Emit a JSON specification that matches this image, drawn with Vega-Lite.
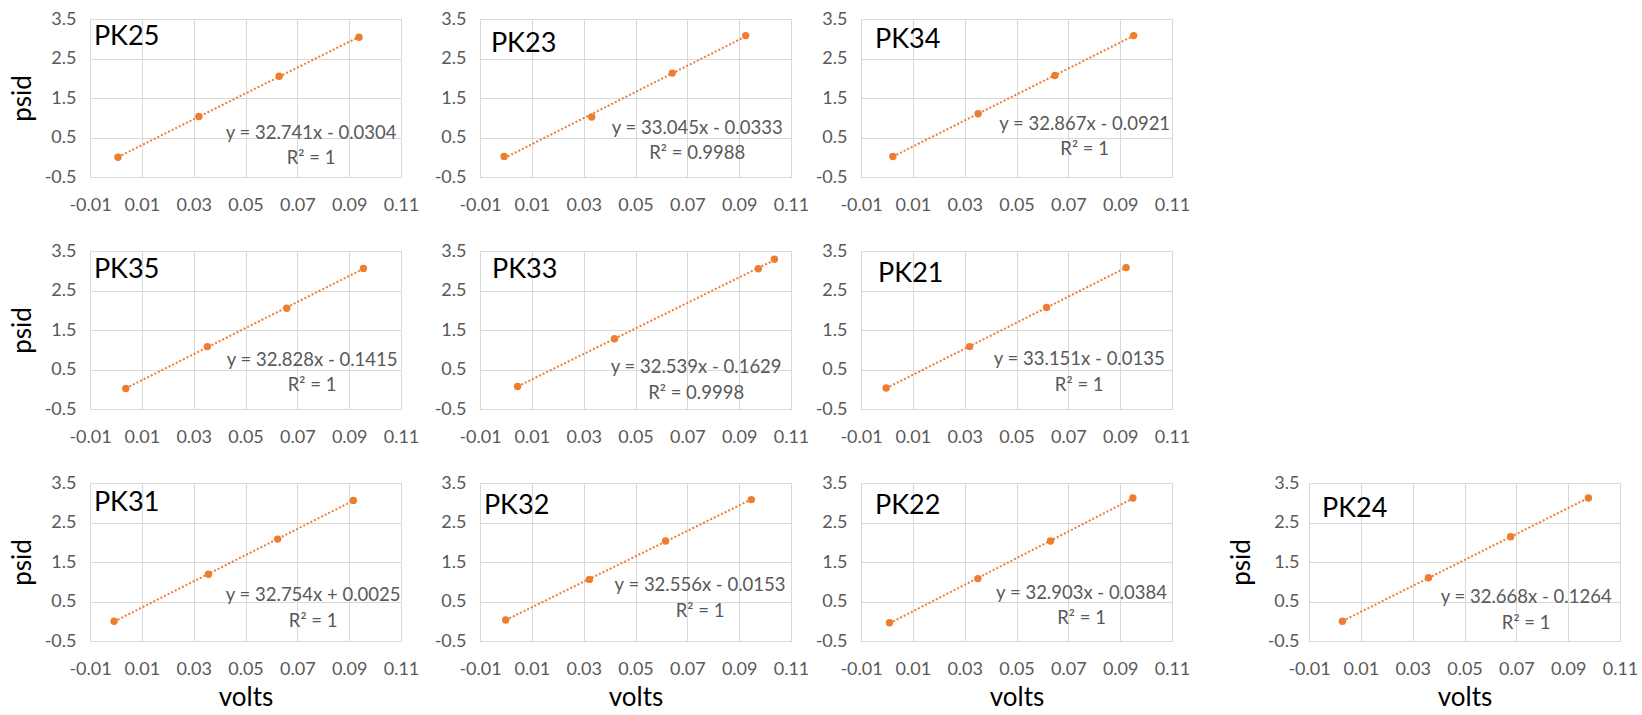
{
  "$schema": "https://vega.github.io/schema/vega-lite/v6.json",
  "background": "white",
  "padding": {"left": 8, "top": 9, "right": 0, "bottom": 0},
  "autosize": {"type": "pad"},
  "columns": 7,
  "align": "none",
  "bounds": "flush",
  "spacing": {"row": 74, "column": 0},
  "datasets": {
    "points": [
      {"panel": "PK25", "volts": 0.0008, "psid": 0.0},
      {"panel": "PK25", "volts": 0.032, "psid": 1.03},
      {"panel": "PK25", "volts": 0.063, "psid": 2.05},
      {"panel": "PK25", "volts": 0.0938, "psid": 3.04},
      {"panel": "PK23", "volts": -0.0007, "psid": 0.02},
      {"panel": "PK23", "volts": 0.0331, "psid": 1.02},
      {"panel": "PK23", "volts": 0.0642, "psid": 2.13},
      {"panel": "PK23", "volts": 0.0925, "psid": 3.08},
      {"panel": "PK34", "volts": 0.0023, "psid": 0.02},
      {"panel": "PK34", "volts": 0.0352, "psid": 1.1},
      {"panel": "PK34", "volts": 0.0648, "psid": 2.07},
      {"panel": "PK34", "volts": 0.0952, "psid": 3.08},
      {"panel": "PK35", "volts": 0.0038, "psid": 0.02},
      {"panel": "PK35", "volts": 0.0353, "psid": 1.08},
      {"panel": "PK35", "volts": 0.0659, "psid": 2.05},
      {"panel": "PK35", "volts": 0.0955, "psid": 3.06},
      {"panel": "PK33", "volts": 0.0045, "psid": 0.07},
      {"panel": "PK33", "volts": 0.0419, "psid": 1.28},
      {"panel": "PK33", "volts": 0.0974, "psid": 3.05},
      {"panel": "PK33", "volts": 0.1036, "psid": 3.29},
      {"panel": "PK21", "volts": -0.0003, "psid": 0.03},
      {"panel": "PK21", "volts": 0.0319, "psid": 1.08},
      {"panel": "PK21", "volts": 0.0616, "psid": 2.07},
      {"panel": "PK21", "volts": 0.0923, "psid": 3.08},
      {"panel": "PK31", "volts": -0.0007, "psid": 0.0},
      {"panel": "PK31", "volts": 0.0357, "psid": 1.19},
      {"panel": "PK31", "volts": 0.0624, "psid": 2.08},
      {"panel": "PK31", "volts": 0.0916, "psid": 3.06},
      {"panel": "PK32", "volts": -0.0001, "psid": 0.03},
      {"panel": "PK32", "volts": 0.0322, "psid": 1.06},
      {"panel": "PK32", "volts": 0.0616, "psid": 2.03},
      {"panel": "PK32", "volts": 0.0947, "psid": 3.08},
      {"panel": "PK22", "volts": 0.001, "psid": -0.04},
      {"panel": "PK22", "volts": 0.0351, "psid": 1.08},
      {"panel": "PK22", "volts": 0.0631, "psid": 2.03},
      {"panel": "PK22", "volts": 0.0949, "psid": 3.12},
      {"panel": "PK24", "volts": 0.0029, "psid": 0.0},
      {"panel": "PK24", "volts": 0.0361, "psid": 1.1},
      {"panel": "PK24", "volts": 0.0678, "psid": 2.14},
      {"panel": "PK24", "volts": 0.0978, "psid": 3.12}
    ],
    "labels": [
      {"panel": "PK25", "eq": "y = 32.741x - 0.0304", "r2": "R² = 1"},
      {"panel": "PK23", "eq": "y = 33.045x - 0.0333", "r2": "R² = 0.9988"},
      {"panel": "PK34", "eq": "y = 32.867x - 0.0921", "r2": "R² = 1"},
      {"panel": "PK35", "eq": "y = 32.828x - 0.1415", "r2": "R² = 1"},
      {"panel": "PK33", "eq": "y = 32.539x - 0.1629", "r2": "R² = 0.9998"},
      {"panel": "PK21", "eq": "y = 33.151x - 0.0135", "r2": "R² = 1"},
      {"panel": "PK31", "eq": "y = 32.754x + 0.0025", "r2": "R² = 1"},
      {"panel": "PK32", "eq": "y = 32.556x - 0.0153", "r2": "R² = 1"},
      {"panel": "PK22", "eq": "y = 32.903x - 0.0384", "r2": "R² = 1"},
      {"panel": "PK24", "eq": "y = 32.668x - 0.1264", "r2": "R² = 1"}
    ]
  },
  "concat": [
    {"width": 311, "height": 158, "layer": [
      {"data": {"name": "points"}, "transform": [{"filter": "datum.panel === 'PK25'"}],
       "encoding": {
         "x": {"field": "volts", "type": "quantitative", "scale": {"domain": [-0.01, 0.11], "nice": false, "zero": false}, "axis": {"values": [-0.01, 0.01, 0.03, 0.05, 0.07, 0.09, 0.11], "tickCount": 20, "format": ".2f", "labelExpr": "replace(datum.label, '−', '-')", "title": null}},
         "y": {"field": "psid", "type": "quantitative", "scale": {"domain": [-0.5, 3.5], "nice": false, "zero": false}, "axis": {"values": [-0.5, 0.5, 1.5, 2.5, 3.5], "tickCount": 20, "format": ".1f", "labelExpr": "replace(datum.label, '−', '-')", "title": "psid"}}},
       "layer": [
         {"transform": [{"regression": "psid", "on": "volts"}], "mark": {"type": "line", "color": "#ED7D31", "strokeWidth": 2, "strokeDash": [2, 2]}},
         {"mark": {"type": "circle", "color": "#ED7D31", "opacity": 1, "size": 55}}
       ]},
      {"data": {"name": "labels"}, "transform": [{"filter": "datum.panel === 'PK25'"}], "mark": {"type": "text", "align": "left", "baseline": "top", "fontSize": 27, "color": "#000000"}, "encoding": {"x": {"datum": -0.0085}, "y": {"datum": 3.37}, "text": {"field": "panel"}}},
      {"data": {"name": "labels"}, "transform": [{"filter": "datum.panel === 'PK25'"}], "mark": {"type": "text", "align": "center", "baseline": "middle", "fontSize": 18.5, "color": "#595959"}, "encoding": {"x": {"datum": 0.0753}, "y": {"datum": 0.614}, "text": {"field": "eq"}}},
      {"data": {"name": "labels"}, "transform": [{"filter": "datum.panel === 'PK25'"}], "mark": {"type": "text", "align": "center", "baseline": "middle", "fontSize": 18.5, "color": "#595959"}, "encoding": {"x": {"datum": 0.0753}, "y": {"datum": -0.02}, "text": {"field": "r2"}}}
    ]},
    {"width": 70, "height": 158, "data": {"values": []}, "mark": "point", "view": {"stroke": null}},
    {"width": 311, "height": 158, "layer": [
      {"data": {"name": "points"}, "transform": [{"filter": "datum.panel === 'PK23'"}],
       "encoding": {
         "x": {"field": "volts", "type": "quantitative", "scale": {"domain": [-0.01, 0.11], "nice": false, "zero": false}, "axis": {"values": [-0.01, 0.01, 0.03, 0.05, 0.07, 0.09, 0.11], "tickCount": 20, "format": ".2f", "labelExpr": "replace(datum.label, '−', '-')", "title": null}},
         "y": {"field": "psid", "type": "quantitative", "scale": {"domain": [-0.5, 3.5], "nice": false, "zero": false}, "axis": {"values": [-0.5, 0.5, 1.5, 2.5, 3.5], "tickCount": 20, "format": ".1f", "labelExpr": "replace(datum.label, '−', '-')", "title": null}}},
       "layer": [
         {"transform": [{"regression": "psid", "on": "volts"}], "mark": {"type": "line", "color": "#ED7D31", "strokeWidth": 2, "strokeDash": [2, 2]}},
         {"mark": {"type": "circle", "color": "#ED7D31", "opacity": 1, "size": 55}}
       ]},
      {"data": {"name": "labels"}, "transform": [{"filter": "datum.panel === 'PK23'"}], "mark": {"type": "text", "align": "left", "baseline": "top", "fontSize": 27, "color": "#000000"}, "encoding": {"x": {"datum": -0.0058}, "y": {"datum": 3.196}, "text": {"field": "panel"}}},
      {"data": {"name": "labels"}, "transform": [{"filter": "datum.panel === 'PK23'"}], "mark": {"type": "text", "align": "center", "baseline": "middle", "fontSize": 18.5, "color": "#595959"}, "encoding": {"x": {"datum": 0.0738}, "y": {"datum": 0.74}, "text": {"field": "eq"}}},
      {"data": {"name": "labels"}, "transform": [{"filter": "datum.panel === 'PK23'"}], "mark": {"type": "text", "align": "center", "baseline": "middle", "fontSize": 18.5, "color": "#595959"}, "encoding": {"x": {"datum": 0.0738}, "y": {"datum": 0.107}, "text": {"field": "r2"}}}
    ]},
    {"width": 70, "height": 158, "data": {"values": []}, "mark": "point", "view": {"stroke": null}},
    {"width": 311, "height": 158, "layer": [
      {"data": {"name": "points"}, "transform": [{"filter": "datum.panel === 'PK34'"}],
       "encoding": {
         "x": {"field": "volts", "type": "quantitative", "scale": {"domain": [-0.01, 0.11], "nice": false, "zero": false}, "axis": {"values": [-0.01, 0.01, 0.03, 0.05, 0.07, 0.09, 0.11], "tickCount": 20, "format": ".2f", "labelExpr": "replace(datum.label, '−', '-')", "title": null}},
         "y": {"field": "psid", "type": "quantitative", "scale": {"domain": [-0.5, 3.5], "nice": false, "zero": false}, "axis": {"values": [-0.5, 0.5, 1.5, 2.5, 3.5], "tickCount": 20, "format": ".1f", "labelExpr": "replace(datum.label, '−', '-')", "title": null}}},
       "layer": [
         {"transform": [{"regression": "psid", "on": "volts"}], "mark": {"type": "line", "color": "#ED7D31", "strokeWidth": 2, "strokeDash": [2, 2]}},
         {"mark": {"type": "circle", "color": "#ED7D31", "opacity": 1, "size": 55}}
       ]},
      {"data": {"name": "labels"}, "transform": [{"filter": "datum.panel === 'PK34'"}], "mark": {"type": "text", "align": "left", "baseline": "top", "fontSize": 27, "color": "#000000"}, "encoding": {"x": {"datum": -0.0046}, "y": {"datum": 3.3}, "text": {"field": "panel"}}},
      {"data": {"name": "labels"}, "transform": [{"filter": "datum.panel === 'PK34'"}], "mark": {"type": "text", "align": "center", "baseline": "middle", "fontSize": 18.5, "color": "#595959"}, "encoding": {"x": {"datum": 0.0763}, "y": {"datum": 0.84}, "text": {"field": "eq"}}},
      {"data": {"name": "labels"}, "transform": [{"filter": "datum.panel === 'PK34'"}], "mark": {"type": "text", "align": "center", "baseline": "middle", "fontSize": 18.5, "color": "#595959"}, "encoding": {"x": {"datum": 0.0763}, "y": {"datum": 0.21}, "text": {"field": "r2"}}}
    ]},
    {"width": 1, "height": 158, "data": {"values": []}, "mark": "point", "view": {"stroke": null}},
    {"width": 1, "height": 158, "data": {"values": []}, "mark": "point", "view": {"stroke": null}},

    {"width": 311, "height": 158, "layer": [
      {"data": {"name": "points"}, "transform": [{"filter": "datum.panel === 'PK35'"}],
       "encoding": {
         "x": {"field": "volts", "type": "quantitative", "scale": {"domain": [-0.01, 0.11], "nice": false, "zero": false}, "axis": {"values": [-0.01, 0.01, 0.03, 0.05, 0.07, 0.09, 0.11], "tickCount": 20, "format": ".2f", "labelExpr": "replace(datum.label, '−', '-')", "title": null}},
         "y": {"field": "psid", "type": "quantitative", "scale": {"domain": [-0.5, 3.5], "nice": false, "zero": false}, "axis": {"values": [-0.5, 0.5, 1.5, 2.5, 3.5], "tickCount": 20, "format": ".1f", "labelExpr": "replace(datum.label, '−', '-')", "title": "psid"}}},
       "layer": [
         {"transform": [{"regression": "psid", "on": "volts"}], "mark": {"type": "line", "color": "#ED7D31", "strokeWidth": 2, "strokeDash": [2, 2]}},
         {"mark": {"type": "circle", "color": "#ED7D31", "opacity": 1, "size": 55}}
       ]},
      {"data": {"name": "labels"}, "transform": [{"filter": "datum.panel === 'PK35'"}], "mark": {"type": "text", "align": "left", "baseline": "top", "fontSize": 27, "color": "#000000"}, "encoding": {"x": {"datum": -0.0085}, "y": {"datum": 3.35}, "text": {"field": "panel"}}},
      {"data": {"name": "labels"}, "transform": [{"filter": "datum.panel === 'PK35'"}], "mark": {"type": "text", "align": "center", "baseline": "middle", "fontSize": 18.5, "color": "#595959"}, "encoding": {"x": {"datum": 0.0757}, "y": {"datum": 0.74}, "text": {"field": "eq"}}},
      {"data": {"name": "labels"}, "transform": [{"filter": "datum.panel === 'PK35'"}], "mark": {"type": "text", "align": "center", "baseline": "middle", "fontSize": 18.5, "color": "#595959"}, "encoding": {"x": {"datum": 0.0757}, "y": {"datum": 0.107}, "text": {"field": "r2"}}}
    ]},
    {"width": 70, "height": 158, "data": {"values": []}, "mark": "point", "view": {"stroke": null}},
    {"width": 311, "height": 158, "layer": [
      {"data": {"name": "points"}, "transform": [{"filter": "datum.panel === 'PK33'"}],
       "encoding": {
         "x": {"field": "volts", "type": "quantitative", "scale": {"domain": [-0.01, 0.11], "nice": false, "zero": false}, "axis": {"values": [-0.01, 0.01, 0.03, 0.05, 0.07, 0.09, 0.11], "tickCount": 20, "format": ".2f", "labelExpr": "replace(datum.label, '−', '-')", "title": null}},
         "y": {"field": "psid", "type": "quantitative", "scale": {"domain": [-0.5, 3.5], "nice": false, "zero": false}, "axis": {"values": [-0.5, 0.5, 1.5, 2.5, 3.5], "tickCount": 20, "format": ".1f", "labelExpr": "replace(datum.label, '−', '-')", "title": null}}},
       "layer": [
         {"transform": [{"regression": "psid", "on": "volts"}], "mark": {"type": "line", "color": "#ED7D31", "strokeWidth": 2, "strokeDash": [2, 2]}},
         {"mark": {"type": "circle", "color": "#ED7D31", "opacity": 1, "size": 55}}
       ]},
      {"data": {"name": "labels"}, "transform": [{"filter": "datum.panel === 'PK33'"}], "mark": {"type": "text", "align": "left", "baseline": "top", "fontSize": 27, "color": "#000000"}, "encoding": {"x": {"datum": -0.0054}, "y": {"datum": 3.35}, "text": {"field": "panel"}}},
      {"data": {"name": "labels"}, "transform": [{"filter": "datum.panel === 'PK33'"}], "mark": {"type": "text", "align": "center", "baseline": "middle", "fontSize": 18.5, "color": "#595959"}, "encoding": {"x": {"datum": 0.0734}, "y": {"datum": 0.563}, "text": {"field": "eq"}}},
      {"data": {"name": "labels"}, "transform": [{"filter": "datum.panel === 'PK33'"}], "mark": {"type": "text", "align": "center", "baseline": "middle", "fontSize": 18.5, "color": "#595959"}, "encoding": {"x": {"datum": 0.0734}, "y": {"datum": -0.095}, "text": {"field": "r2"}}}
    ]},
    {"width": 70, "height": 158, "data": {"values": []}, "mark": "point", "view": {"stroke": null}},
    {"width": 311, "height": 158, "layer": [
      {"data": {"name": "points"}, "transform": [{"filter": "datum.panel === 'PK21'"}],
       "encoding": {
         "x": {"field": "volts", "type": "quantitative", "scale": {"domain": [-0.01, 0.11], "nice": false, "zero": false}, "axis": {"values": [-0.01, 0.01, 0.03, 0.05, 0.07, 0.09, 0.11], "tickCount": 20, "format": ".2f", "labelExpr": "replace(datum.label, '−', '-')", "title": null}},
         "y": {"field": "psid", "type": "quantitative", "scale": {"domain": [-0.5, 3.5], "nice": false, "zero": false}, "axis": {"values": [-0.5, 0.5, 1.5, 2.5, 3.5], "tickCount": 20, "format": ".1f", "labelExpr": "replace(datum.label, '−', '-')", "title": null}}},
       "layer": [
         {"transform": [{"regression": "psid", "on": "volts"}], "mark": {"type": "line", "color": "#ED7D31", "strokeWidth": 2, "strokeDash": [2, 2]}},
         {"mark": {"type": "circle", "color": "#ED7D31", "opacity": 1, "size": 55}}
       ]},
      {"data": {"name": "labels"}, "transform": [{"filter": "datum.panel === 'PK21'"}], "mark": {"type": "text", "align": "left", "baseline": "top", "fontSize": 27, "color": "#000000"}, "encoding": {"x": {"datum": -0.0034}, "y": {"datum": 3.25}, "text": {"field": "panel"}}},
      {"data": {"name": "labels"}, "transform": [{"filter": "datum.panel === 'PK21'"}], "mark": {"type": "text", "align": "center", "baseline": "middle", "fontSize": 18.5, "color": "#595959"}, "encoding": {"x": {"datum": 0.0742}, "y": {"datum": 0.765}, "text": {"field": "eq"}}},
      {"data": {"name": "labels"}, "transform": [{"filter": "datum.panel === 'PK21'"}], "mark": {"type": "text", "align": "center", "baseline": "middle", "fontSize": 18.5, "color": "#595959"}, "encoding": {"x": {"datum": 0.0742}, "y": {"datum": 0.107}, "text": {"field": "r2"}}}
    ]},
    {"width": 1, "height": 158, "data": {"values": []}, "mark": "point", "view": {"stroke": null}},
    {"width": 1, "height": 158, "data": {"values": []}, "mark": "point", "view": {"stroke": null}},

    {"width": 311, "height": 158, "layer": [
      {"data": {"name": "points"}, "transform": [{"filter": "datum.panel === 'PK31'"}],
       "encoding": {
         "x": {"field": "volts", "type": "quantitative", "scale": {"domain": [-0.01, 0.11], "nice": false, "zero": false}, "axis": {"values": [-0.01, 0.01, 0.03, 0.05, 0.07, 0.09, 0.11], "tickCount": 20, "format": ".2f", "labelExpr": "replace(datum.label, '−', '-')", "title": "volts"}},
         "y": {"field": "psid", "type": "quantitative", "scale": {"domain": [-0.5, 3.5], "nice": false, "zero": false}, "axis": {"values": [-0.5, 0.5, 1.5, 2.5, 3.5], "tickCount": 20, "format": ".1f", "labelExpr": "replace(datum.label, '−', '-')", "title": "psid"}}},
       "layer": [
         {"transform": [{"regression": "psid", "on": "volts"}], "mark": {"type": "line", "color": "#ED7D31", "strokeWidth": 2, "strokeDash": [2, 2]}},
         {"mark": {"type": "circle", "color": "#ED7D31", "opacity": 1, "size": 55}}
       ]},
      {"data": {"name": "labels"}, "transform": [{"filter": "datum.panel === 'PK31'"}], "mark": {"type": "text", "align": "left", "baseline": "top", "fontSize": 27, "color": "#000000"}, "encoding": {"x": {"datum": -0.0085}, "y": {"datum": 3.32}, "text": {"field": "panel"}}},
      {"data": {"name": "labels"}, "transform": [{"filter": "datum.panel === 'PK31'"}], "mark": {"type": "text", "align": "center", "baseline": "middle", "fontSize": 18.5, "color": "#595959"}, "encoding": {"x": {"datum": 0.0761}, "y": {"datum": 0.664}, "text": {"field": "eq"}}},
      {"data": {"name": "labels"}, "transform": [{"filter": "datum.panel === 'PK31'"}], "mark": {"type": "text", "align": "center", "baseline": "middle", "fontSize": 18.5, "color": "#595959"}, "encoding": {"x": {"datum": 0.0761}, "y": {"datum": 0.006}, "text": {"field": "r2"}}}
    ]},
    {"width": 79, "height": 158, "data": {"values": []}, "mark": "point", "view": {"stroke": null}},
    {"width": 311, "height": 158, "layer": [
      {"data": {"name": "points"}, "transform": [{"filter": "datum.panel === 'PK32'"}],
       "encoding": {
         "x": {"field": "volts", "type": "quantitative", "scale": {"domain": [-0.01, 0.11], "nice": false, "zero": false}, "axis": {"values": [-0.01, 0.01, 0.03, 0.05, 0.07, 0.09, 0.11], "tickCount": 20, "format": ".2f", "labelExpr": "replace(datum.label, '−', '-')", "title": "volts"}},
         "y": {"field": "psid", "type": "quantitative", "scale": {"domain": [-0.5, 3.5], "nice": false, "zero": false}, "axis": {"values": [-0.5, 0.5, 1.5, 2.5, 3.5], "tickCount": 20, "format": ".1f", "labelExpr": "replace(datum.label, '−', '-')", "title": null}}},
       "layer": [
         {"transform": [{"regression": "psid", "on": "volts"}], "mark": {"type": "line", "color": "#ED7D31", "strokeWidth": 2, "strokeDash": [2, 2]}},
         {"mark": {"type": "circle", "color": "#ED7D31", "opacity": 1, "size": 55}}
       ]},
      {"data": {"name": "labels"}, "transform": [{"filter": "datum.panel === 'PK32'"}], "mark": {"type": "text", "align": "left", "baseline": "top", "fontSize": 27, "color": "#000000"}, "encoding": {"x": {"datum": -0.0085}, "y": {"datum": 3.25}, "text": {"field": "panel"}}},
      {"data": {"name": "labels"}, "transform": [{"filter": "datum.panel === 'PK32'"}], "mark": {"type": "text", "align": "center", "baseline": "middle", "fontSize": 18.5, "color": "#595959"}, "encoding": {"x": {"datum": 0.0749}, "y": {"datum": 0.917}, "text": {"field": "eq"}}},
      {"data": {"name": "labels"}, "transform": [{"filter": "datum.panel === 'PK32'"}], "mark": {"type": "text", "align": "center", "baseline": "middle", "fontSize": 18.5, "color": "#595959"}, "encoding": {"x": {"datum": 0.0749}, "y": {"datum": 0.259}, "text": {"field": "r2"}}}
    ]},
    {"width": 61, "height": 158, "data": {"values": []}, "mark": "point", "view": {"stroke": null}},
    {"width": 311, "height": 158, "layer": [
      {"data": {"name": "points"}, "transform": [{"filter": "datum.panel === 'PK22'"}],
       "encoding": {
         "x": {"field": "volts", "type": "quantitative", "scale": {"domain": [-0.01, 0.11], "nice": false, "zero": false}, "axis": {"values": [-0.01, 0.01, 0.03, 0.05, 0.07, 0.09, 0.11], "tickCount": 20, "format": ".2f", "labelExpr": "replace(datum.label, '−', '-')", "title": "volts"}},
         "y": {"field": "psid", "type": "quantitative", "scale": {"domain": [-0.5, 3.5], "nice": false, "zero": false}, "axis": {"values": [-0.5, 0.5, 1.5, 2.5, 3.5], "tickCount": 20, "format": ".1f", "labelExpr": "replace(datum.label, '−', '-')", "title": null}}},
       "layer": [
         {"transform": [{"regression": "psid", "on": "volts"}], "mark": {"type": "line", "color": "#ED7D31", "strokeWidth": 2, "strokeDash": [2, 2]}},
         {"mark": {"type": "circle", "color": "#ED7D31", "opacity": 1, "size": 55}}
       ]},
      {"data": {"name": "labels"}, "transform": [{"filter": "datum.panel === 'PK22'"}], "mark": {"type": "text", "align": "left", "baseline": "top", "fontSize": 27, "color": "#000000"}, "encoding": {"x": {"datum": -0.0046}, "y": {"datum": 3.25}, "text": {"field": "panel"}}},
      {"data": {"name": "labels"}, "transform": [{"filter": "datum.panel === 'PK22'"}], "mark": {"type": "text", "align": "center", "baseline": "middle", "fontSize": 18.5, "color": "#595959"}, "encoding": {"x": {"datum": 0.0751}, "y": {"datum": 0.715}, "text": {"field": "eq"}}},
      {"data": {"name": "labels"}, "transform": [{"filter": "datum.panel === 'PK22'"}], "mark": {"type": "text", "align": "center", "baseline": "middle", "fontSize": 18.5, "color": "#595959"}, "encoding": {"x": {"datum": 0.0751}, "y": {"datum": 0.082}, "text": {"field": "r2"}}}
    ]},
    {"width": 137, "height": 158, "data": {"values": []}, "mark": "point", "view": {"stroke": null}},
    {"width": 311, "height": 158, "layer": [
      {"data": {"name": "points"}, "transform": [{"filter": "datum.panel === 'PK24'"}],
       "encoding": {
         "x": {"field": "volts", "type": "quantitative", "scale": {"domain": [-0.01, 0.11], "nice": false, "zero": false}, "axis": {"values": [-0.01, 0.01, 0.03, 0.05, 0.07, 0.09, 0.11], "tickCount": 20, "format": ".2f", "labelExpr": "replace(datum.label, '−', '-')", "title": "volts"}},
         "y": {"field": "psid", "type": "quantitative", "scale": {"domain": [-0.5, 3.5], "nice": false, "zero": false}, "axis": {"values": [-0.5, 0.5, 1.5, 2.5, 3.5], "tickCount": 20, "format": ".1f", "labelExpr": "replace(datum.label, '−', '-')", "title": "psid", "labelPadding": 10, "titlePadding": 13}}},
       "layer": [
         {"transform": [{"regression": "psid", "on": "volts"}], "mark": {"type": "line", "color": "#ED7D31", "strokeWidth": 2, "strokeDash": [2, 2]}},
         {"mark": {"type": "circle", "color": "#ED7D31", "opacity": 1, "size": 55}}
       ]},
      {"data": {"name": "labels"}, "transform": [{"filter": "datum.panel === 'PK24'"}], "mark": {"type": "text", "align": "left", "baseline": "top", "fontSize": 27, "color": "#000000"}, "encoding": {"x": {"datum": -0.005}, "y": {"datum": 3.17}, "text": {"field": "panel"}}},
      {"data": {"name": "labels"}, "transform": [{"filter": "datum.panel === 'PK24'"}], "mark": {"type": "text", "align": "center", "baseline": "middle", "fontSize": 18.5, "color": "#595959"}, "encoding": {"x": {"datum": 0.0738}, "y": {"datum": 0.614}, "text": {"field": "eq"}}},
      {"data": {"name": "labels"}, "transform": [{"filter": "datum.panel === 'PK24'"}], "mark": {"type": "text", "align": "center", "baseline": "middle", "fontSize": 18.5, "color": "#595959"}, "encoding": {"x": {"datum": 0.0738}, "y": {"datum": -0.045}, "text": {"field": "r2"}}}
    ]}
  ],
  "config": {
    "font": "Lato",
    "view": {"stroke": "#D9D9D9", "strokeWidth": 1},
    "text": {"font": "Lato"},
    "axis": {
      "grid": true, "gridColor": "#D9D9D9", "gridWidth": 1,
      "domain": false, "ticks": false, "tickSize": 0,
      "labelFont": "Lato", "labelFontSize": 18, "labelColor": "#595959",
      "labelFlush": false, "labelOverlap": false, "labelBound": false,
      "titleFont": "Lato", "titleFontSize": 26, "titleFontWeight": "normal", "titleColor": "#000000"
    },
    "axisX": {"labelPadding": 19, "titlePadding": 6},
    "axisY": {"labelPadding": 14, "titlePadding": 9}
  }
}
